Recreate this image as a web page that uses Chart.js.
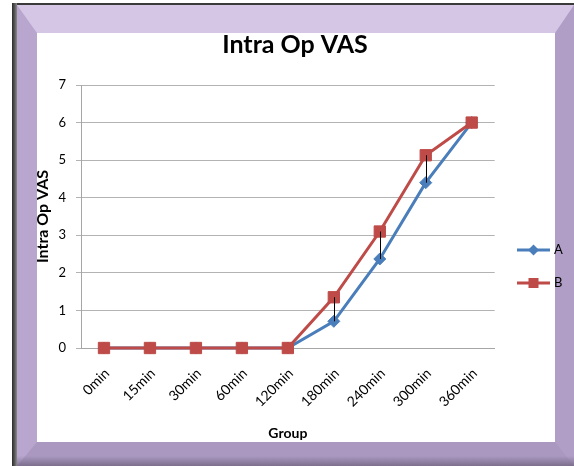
<!DOCTYPE html>
<html>
<head>
<meta charset="utf-8">
<script src="https://cdn.jsdelivr.net/npm/chart.js@4"></script>
<style>
html,body{margin:0;padding:0;background:#fff;}
#wrap{position:relative;width:574px;height:466px;overflow:hidden;background:#fff;}
#edgeL{position:absolute;left:12px;top:3px;width:5px;height:463px;background:linear-gradient(to right,#2b2b2b,#555,#8a8a8a);}
#edgeT{position:absolute;left:12px;top:3px;width:562px;height:2px;background:#3a3a3a;}
#bevel{position:absolute;left:17px;top:5px;width:518px;height:409px;border-style:solid;border-width:28px 19px 24px 20px;border-color:#d6c6e5 #b09ec7 #aa98c0 #b8a6ce;background:#fff;}
#shadeB{position:absolute;left:17px;top:456px;width:557px;height:10px;background:linear-gradient(to bottom,rgba(70,60,80,0),rgba(70,60,80,0.45));}
canvas{position:absolute;left:0;top:0;}
</style>
</head>
<body>
<div id="wrap">
  <div id="edgeT"></div>
  <div id="edgeL"></div>
  <div id="bevel"></div>
  <div id="shadeB"></div>
  <canvas id="c" width="574" height="466"></canvas>
</div>
<script>
// ---- data ----
const categories = ['0min', '15min', '30min', '60min', '120min', '180min', '240min', '300min', '360min'];
const seriesA = [0, 0, 0, 0, 0, 0.71, 2.37, 4.4, 6.0];
const seriesB = [0, 0, 0, 0, 0, 1.35, 3.1, 5.13, 6.0];
const seriesNames = ['A', 'B'];
const yMin = 0;
const yMax = 7;
const yStep = 1;
const chartTitle = 'Intra Op VAS';
const xTitle = 'Group';
const yTitle = 'Intra Op VAS';

const colorA = '#4A7EBB';
const colorB = '#BE4B48';
const FONT = "Lato, 'Open Sans', sans-serif";

function legendIcon(color, shape) {
  const c = document.createElement('canvas');
  c.width = 33; c.height = 12;
  const g = c.getContext('2d');
  g.strokeStyle = color; g.lineWidth = 3;
  g.beginPath(); g.moveTo(0, 6); g.lineTo(33, 6); g.stroke();
  g.fillStyle = color;
  if (shape === 'diamond') {
    g.beginPath(); g.moveTo(16.5, 0.5); g.lineTo(22, 6); g.lineTo(16.5, 11.5); g.lineTo(11, 6); g.closePath(); g.fill();
  } else {
    g.fillRect(11.5, 1, 10, 10);
  }
  return c;
}
const legendIcons = [legendIcon(colorA, 'diamond'), legendIcon(colorB, 'square')];

const highLowLines = {
  id: 'highLowLines',
  afterDatasetsDraw(chart) {
    const a = chart.getDatasetMeta(0).data;
    const b = chart.getDatasetMeta(1).data;
    const ctx = chart.ctx;
    ctx.save();
    ctx.strokeStyle = '#000';
    ctx.lineWidth = 1;
    for (let i = 0; i < a.length; i++) {
      if (Math.abs(a[i].y - b[i].y) < 1) continue;
      const x = Math.round(a[i].x) + 0.5;
      ctx.beginPath();
      ctx.moveTo(x, Math.min(a[i].y, b[i].y));
      ctx.lineTo(x, Math.max(a[i].y, b[i].y));
      ctx.stroke();
    }
    ctx.restore();
  }
};

const placeBoxes = {
  id: 'placeBoxes',
  afterLayout(chart) {
    const lg = chart.legend;
    if (lg) {
      lg.left = 499.5;
      lg.right = lg.left + lg.width;
      lg.top = 223.5;
      lg.bottom = 466;
    }
    const t = chart.titleBlock;
    if (t) { t.left = 16; t.right = 574; }
  }
};

new Chart(document.getElementById('c'), {
  type: 'line',
  data: {
    labels: categories,
    datasets: [
      {
        label: seriesNames[0], data: seriesA, order: 2,
        borderColor: colorA, backgroundColor: colorA, borderWidth: 3,
        pointStyle: 'rectRot', pointRadius: 6, pointBorderWidth: 1,
        pointBackgroundColor: colorA, pointBorderColor: colorA,
        tension: 0, clip: false
      },
      {
        label: seriesNames[1], data: seriesB, order: 1,
        borderColor: colorB, backgroundColor: colorB, borderWidth: 3,
        pointStyle: 'rect', pointRadius: 8, pointBorderWidth: 1,
        pointBackgroundColor: colorB, pointBorderColor: colorB,
        tension: 0, clip: false
      }
    ]
  },
  options: {
    responsive: false,
    animation: false,
    devicePixelRatio: 1,
    layout: { padding: { left: 33, right: 6, top: 0, bottom: 20 } },
    plugins: {
      tooltip: { enabled: false },
      title: {
        display: true, text: chartTitle, color: '#000',
        font: { family: FONT, size: 25, weight: 'bold' },
        padding: { top: 30, bottom: 25 }
      },
      legend: {
        position: 'right', align: 'start',
        labels: {
          color: '#000',
          font: { family: FONT, size: 13 },
          usePointStyle: true, pointStyleWidth: 28, boxHeight: 12, padding: 20,
          sort: (a, b) => a.datasetIndex - b.datasetIndex,
          generateLabels(chart) {
            const items = Chart.defaults.plugins.legend.labels.generateLabels(chart);
            items.forEach(it => { it.pointStyle = legendIcons[it.datasetIndex]; });
            return items;
          }
        }
      }
    },
    scales: {
      x: {
        offset: true,
        grid: { display: false, drawTicks: false },
        border: { display: true, color: '#a6a6a6', width: 1 },
        ticks: { minRotation: 45, maxRotation: 45, padding: 17, labelOffset: 3, color: '#000', font: { family: FONT, size: 14 } },
        title: { display: true, text: xTitle, color: '#000', font: { family: FONT, size: 14, weight: 'bold' }, padding: { top: 4, bottom: 4 } },
        afterFit(s) { s.height = 98; }
      },
      y: {
        min: yMin, max: yMax,
        ticks: { stepSize: yStep, padding: 10, color: '#000', font: { family: FONT, size: 13 } },
        grid: { color: '#b3b3b3', tickLength: 5, drawTicks: true },
        border: { color: '#a6a6a6', width: 1 },
        title: { display: true, text: yTitle, color: '#000', font: { family: FONT, size: 16, weight: 'bold' }, padding: { top: 0, bottom: 0 } },
        afterFit(s) { s.width = 48; }
      }
    }
  },
  plugins: [highLowLines, placeBoxes]
});
</script>
</body>
</html>
